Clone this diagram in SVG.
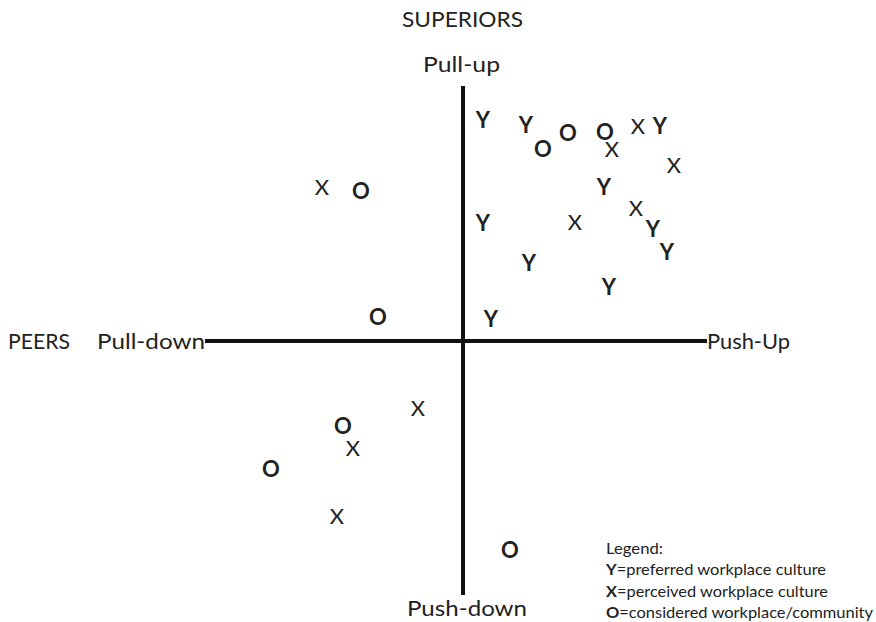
<svg xmlns="http://www.w3.org/2000/svg" width="876" height="622" viewBox="0 0 876 622">
<style>
text{font-family:Lato,"Open Sans","Liberation Sans",sans-serif;fill:#222}
.lab{font-size:22px}
.m{font-size:22px;text-anchor:middle}
.b{font-weight:bold}
.lg{font-size:16px}
.axis{stroke:#111;stroke-width:4;fill:none}
</style>
<rect width="876" height="622" fill="#fff"/>
<g id="connectors">
<line class="axis" x1="463" y1="86" x2="463" y2="595"/>
<line class="axis" x1="205" y1="341" x2="707" y2="341"/>
</g>
<g id="labels">
<text class="lab" x="402" y="27" textLength="121" lengthAdjust="spacingAndGlyphs">SUPERIORS</text>
<text class="lab" x="423" y="72" textLength="77" lengthAdjust="spacingAndGlyphs">Pull-up</text>
<text class="lab" x="407" y="616" textLength="120" lengthAdjust="spacingAndGlyphs">Push-down</text>
<text class="lab" x="8" y="349" textLength="62" lengthAdjust="spacingAndGlyphs">PEERS</text>
<text class="lab" x="97" y="349" textLength="108" lengthAdjust="spacingAndGlyphs">Pull-down</text>
<text class="lab" x="707" y="349" textLength="83" lengthAdjust="spacingAndGlyphs">Push-Up</text>
</g>
<g id="points-Y">
<text class="m b" x="483" y="128">Y</text>
<text class="m b" x="526" y="133">Y</text>
<text class="m b" x="660" y="134">Y</text>
<text class="m b" x="604" y="195">Y</text>
<text class="m b" x="483" y="231">Y</text>
<text class="m b" x="653" y="237">Y</text>
<text class="m b" x="667" y="260">Y</text>
<text class="m b" x="529" y="271">Y</text>
<text class="m b" x="609" y="295">Y</text>
<text class="m b" x="491" y="327">Y</text>
</g>
<g id="points-O">
<text class="m b" x="543" y="157">O</text>
<text class="m b" x="568" y="141">O</text>
<text class="m b" x="605" y="140">O</text>
<text class="m b" x="361" y="199">O</text>
<text class="m b" x="378" y="325">O</text>
<text class="m b" x="343" y="434">O</text>
<text class="m b" x="271" y="477">O</text>
<text class="m b" x="510" y="558">O</text>
</g>
<g id="points-X">
<text class="m" x="612" y="157">X</text>
<text class="m" x="638" y="134">X</text>
<text class="m" x="674" y="173">X</text>
<text class="m" x="636" y="216">X</text>
<text class="m" x="575" y="230">X</text>
<text class="m" x="322" y="195">X</text>
<text class="m" x="418" y="416">X</text>
<text class="m" x="353" y="456">X</text>
<text class="m" x="337" y="524">X</text>
</g>
<g id="legend">
<text class="lg" x="606" y="554" textLength="57" lengthAdjust="spacingAndGlyphs">Legend:</text>
<text class="lg" x="606" y="575" textLength="220" lengthAdjust="spacingAndGlyphs"><tspan class="b">Y</tspan>=preferred workplace culture</text>
<text class="lg" x="606" y="597" textLength="222" lengthAdjust="spacingAndGlyphs"><tspan class="b">X</tspan>=perceived workplace culture</text>
<text class="lg" x="606" y="618" textLength="267" lengthAdjust="spacingAndGlyphs"><tspan class="b">O</tspan>=considered workplace/community</text>
</g>
</svg>
